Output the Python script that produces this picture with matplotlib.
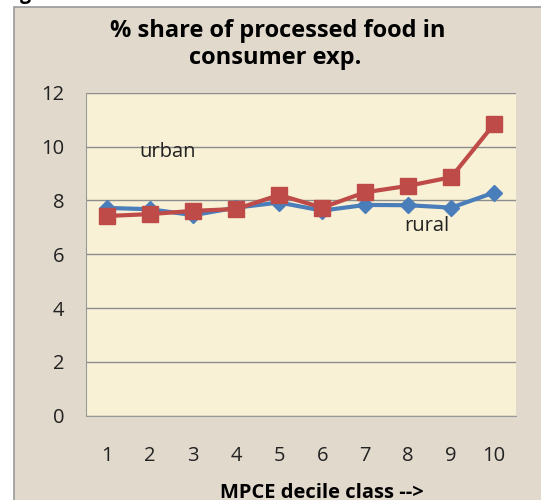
import matplotlib.pyplot as plt
from matplotlib.patches import Rectangle

deciles = [1, 2, 3, 4, 5, 6, 7, 8, 9, 10]
rural = [7.72, 7.67, 7.45, 7.73, 7.92, 7.62, 7.83, 7.82, 7.73, 8.29]
urban = [7.42, 7.49, 7.61, 7.68, 8.20, 7.73, 8.30, 8.54, 8.86, 10.84]
yticks = [0, 2, 4, 6, 8, 10, 12]

W, H = 541, 500
fig = plt.figure(figsize=(W / 100, H / 100), dpi=100)
fig.patch.set_facecolor('white')

# chart frame (textured beige in the original)
fig.patches.append(Rectangle((14 / W, -0.1), 1.2, 1 - 7 / H + 0.1,
                             transform=fig.transFigure, facecolor='#e0d9cc',
                             edgecolor='#9a9a9a', linewidth=1.2, zorder=-5))
# cropped caption above the chart
fig.text(20 / W, 1 + 1.5 / H, 'g', fontsize=14, fontweight='bold',
         family='Open Sans', va='baseline', ha='left')

ax = fig.add_axes([85.7 / W, 1 - 415.7 / H, 430 / W, 323 / H])
ax.set_facecolor('#f8f1d6')
ax.plot(deciles, rural, color='#4a7ebb', linewidth=3, marker='D',
        markersize=8, zorder=3)
ax.plot(deciles, urban, color='#be4b48', linewidth=3, marker='s',
        markersize=12, zorder=4)

ax.set_xlim(0.5, 10.5)
ax.set_ylim(0, 12)
ax.set_yticks(yticks)
ax.set_xticks(deciles)
ax.yaxis.grid(True, color='#8c8c8c', linewidth=1)
ax.set_axisbelow(True)
ax.tick_params(length=0, labelsize=14.5, colors='#222222')
ax.tick_params(axis='x', pad=22)
ax.tick_params(axis='y', pad=15.5)
for lab in ax.get_xticklabels() + ax.get_yticklabels():
    lab.set_family('Open Sans')
for s in ['top', 'right']:
    ax.spines[s].set_visible(False)
for s in ['left', 'bottom']:
    ax.spines[s].set_color('#999999')

ax.text(1.74, 9.8, 'urban', fontsize=14.5, family='Open Sans', va='center',
        color='#222222')
ax.text(7.9, 7.05, 'rural', fontsize=14.5, family='Open Sans', va='center',
        color='#222222')

fig.text(278 / W, 1 - 31 / H, '% share of processed food in', fontsize=17,
         fontweight='bold', family='Open Sans', ha='center', va='center')
fig.text(275 / W, 1 - 58 / H, 'consumer exp.', fontsize=17,
         fontweight='bold', family='Open Sans', ha='center', va='center')
fig.text(322 / W, 1 - 493 / H, 'MPCE decile class -->', fontsize=14.5,
         fontweight='bold', family='Open Sans', ha='center', va='center')

fig.savefig('out.png', dpi=100)
